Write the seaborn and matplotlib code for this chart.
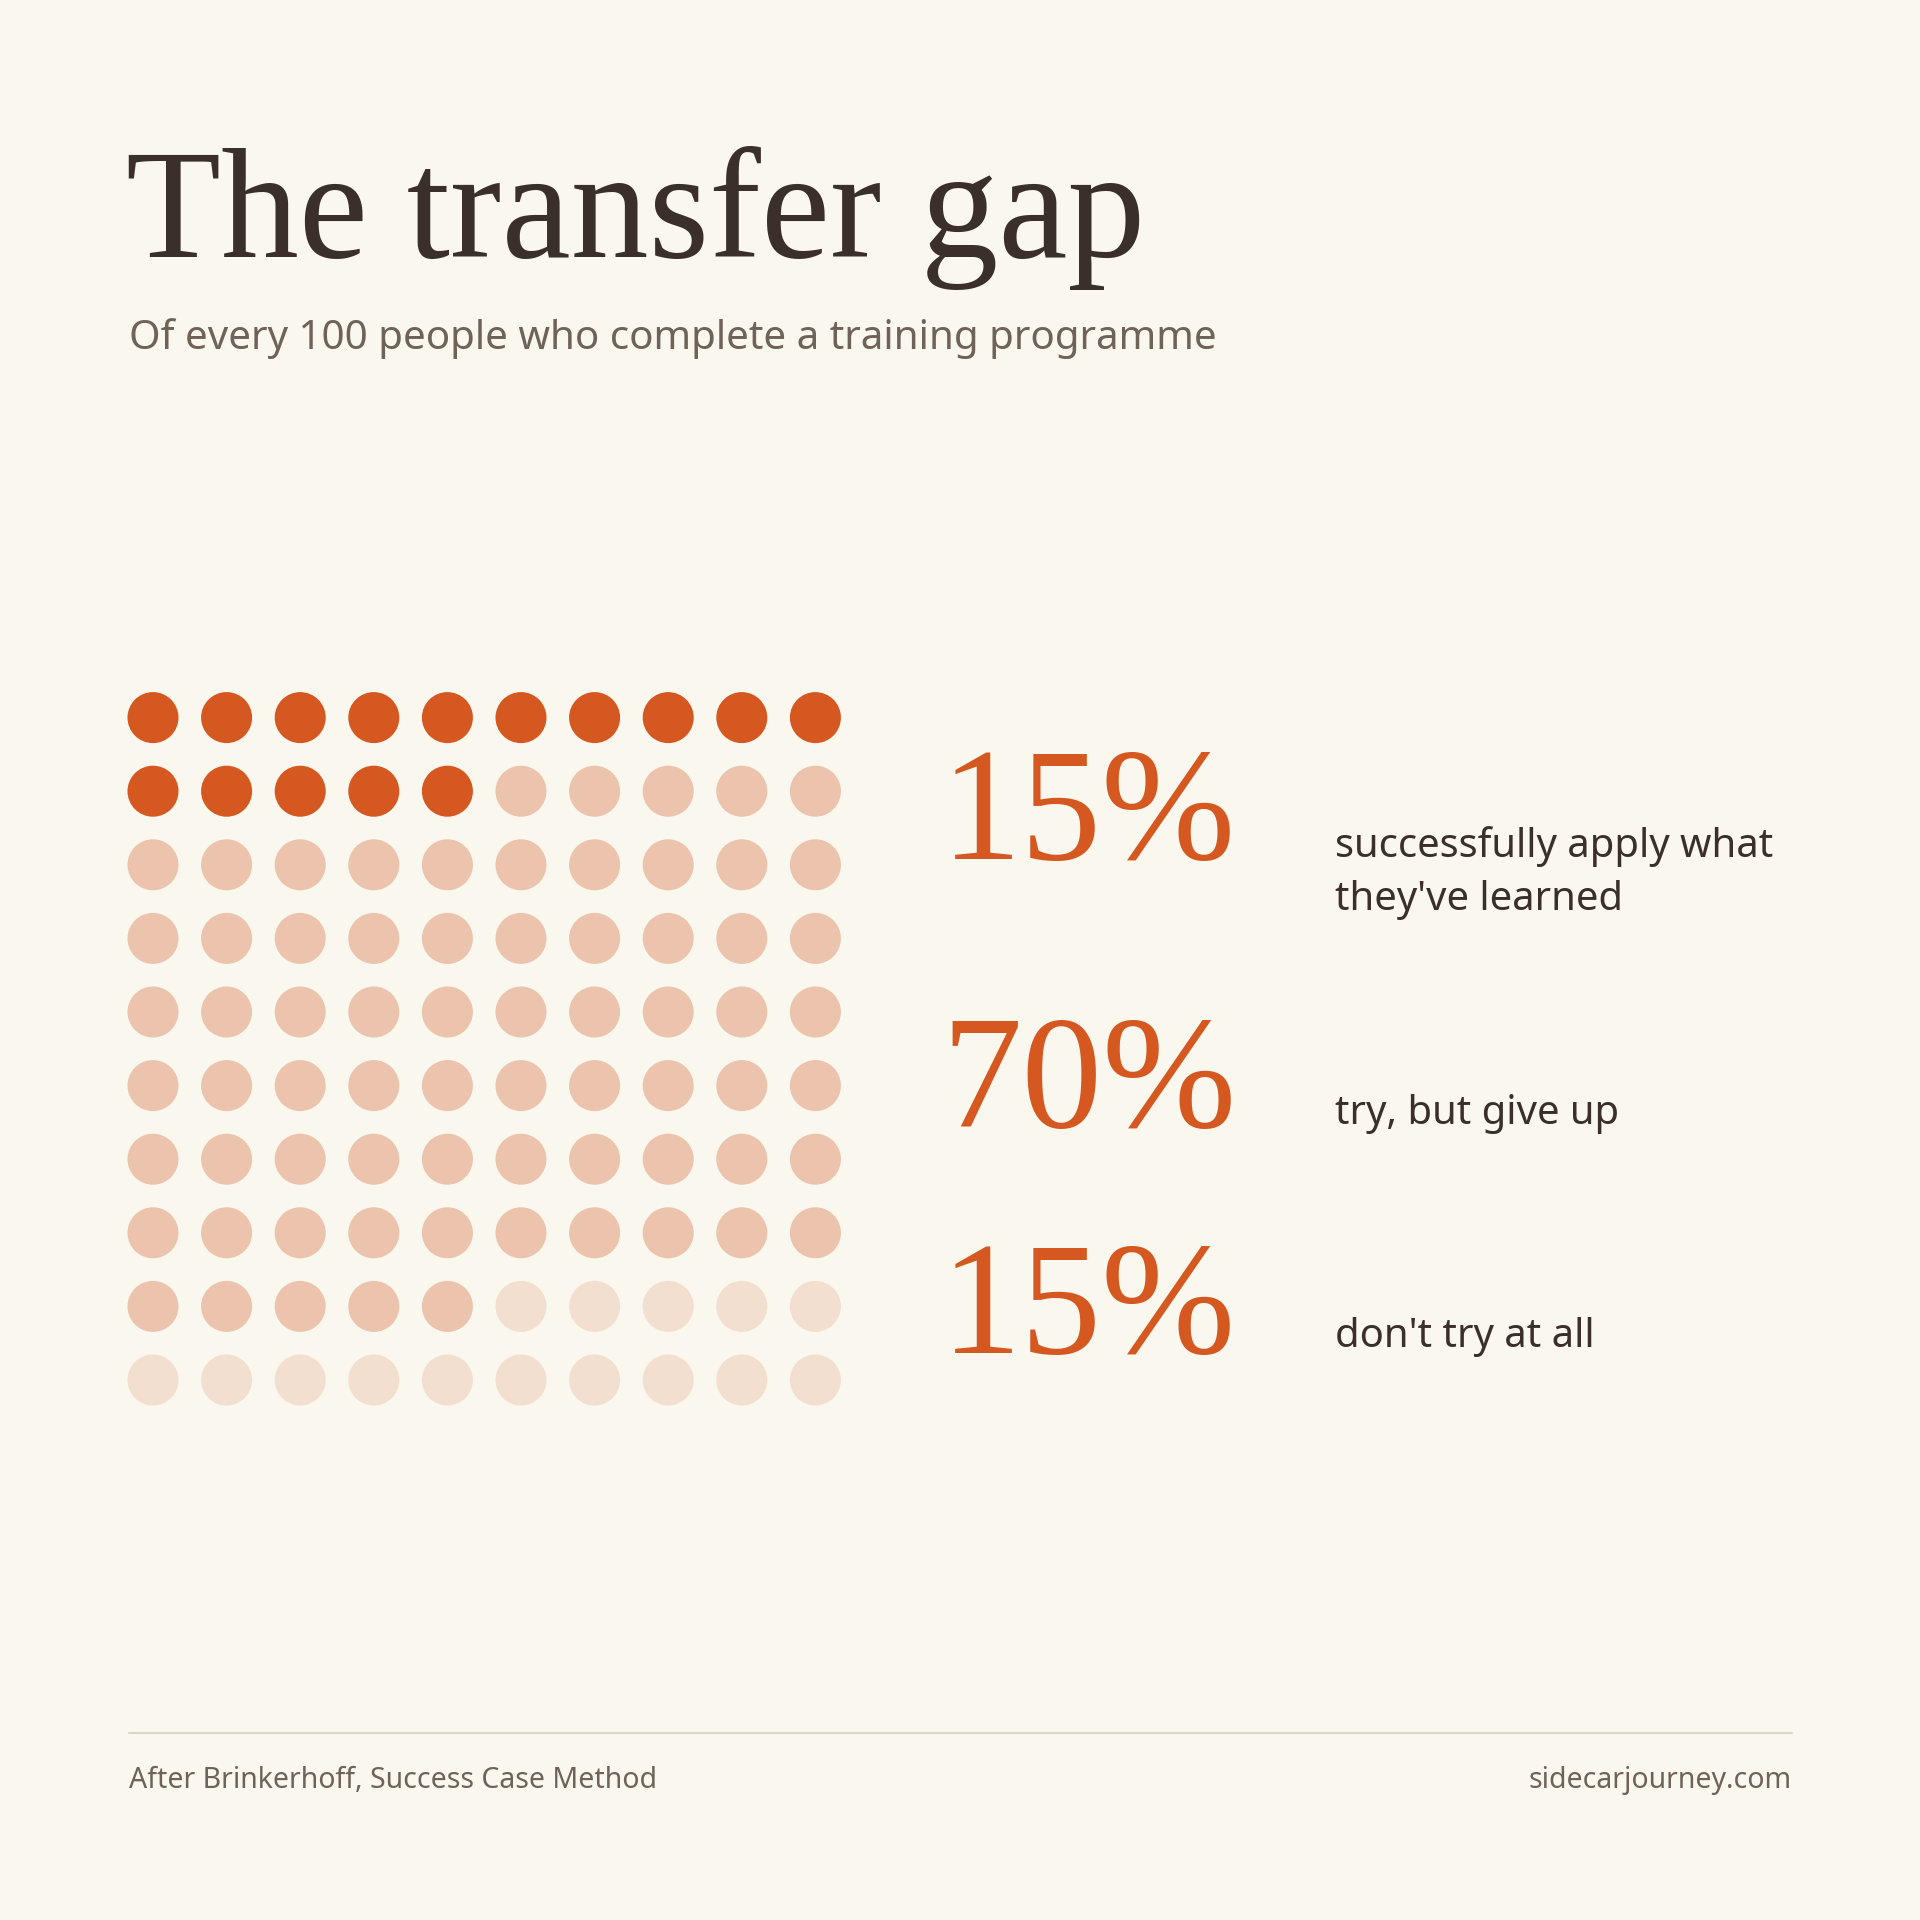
# === IMPORTS ===
import numpy as np
import pandas as pd
import matplotlib.pyplot as plt
import seaborn as sns

# === DATA ===
group_names = ["apply", "give_up", "no_try"]
group_counts = [15, 70, 15]
pct_labels = ["15%", "70%", "15%"]
group_texts = ["successfully apply what\nthey've learned", "try, but give up", "don't try at all"]
grid_cols = 10

title = "The transfer gap"
subtitle = "Of every 100 people who complete a training programme"
source = "After Brinkerhoff, Success Case Method"
site = "sidecarjourney.com"

# === STYLE ===
BG = "#FAF7EF"
DARK = "#3B3029"
MUTED = "#6E6259"
ACCENT = "#D4581F"
dot_colors = {"apply": "#D4581F", "give_up": "#ECC3AC", "no_try": "#F3DFD0"}

sns.set_theme(style="white")
plt.rcParams["font.family"] = ["Noto Sans", "DejaVu Sans"]

W = H = 1920
fig = plt.figure(figsize=(19.2, 19.2), dpi=100, facecolor=BG)

# background axes in pixel coordinates for text and rule
bg = fig.add_axes([0, 0, 1, 1])
bg.set_xlim(0, W)
bg.set_ylim(H, 0)
bg.axis("off")
bg.set_facecolor(BG)

# === WAFFLE GRID ===
people = []
for name, n in zip(group_names, group_counts):
    people += [name] * n
df = pd.DataFrame({"group": people})
df["col"] = np.arange(len(df)) % grid_cols
df["row"] = np.arange(len(df)) // grid_cols

gx = fig.add_axes([116.2 / W, 1 - 1416.8 / H, 736 / W, 736 / H])
sns.scatterplot(data=df, x="col", y="row", hue="group", palette=dot_colors,
                s=1350, linewidth=0, legend=False, ax=gx)
gx.set_xlim(-0.5, grid_cols - 0.5)
gx.set_ylim(grid_cols - 0.5, -0.5)
gx.axis("off")
gx.patch.set_alpha(0)

# === TEXT ===
bg.text(126, 257, title, family="Liberation Serif", fontsize=112, color=DARK, va="baseline")
bg.text(129, 349, subtitle, fontsize=29, color=MUTED, va="baseline")

pct_y = [859, 1127, 1353]
# baseline of the last line of each label
label_y = [910, 1124, 1347]
for pct, txt, py, ly in zip(pct_labels, group_texts, pct_y, label_y):
    bg.text(941, py, pct, family="Liberation Serif", fontsize=116, color=ACCENT, va="baseline")
    bg.text(1335, ly, txt, fontsize=28.8, color=DARK, va="baseline", linespacing=1.42)

# footer
bg.plot([128.6, 1791.5], [1733, 1733], color="#DCD6C6", lw=1.5)
bg.text(129, 1788, source, fontsize=20.5, color=MUTED, va="baseline")
bg.text(1791.5, 1788, site, fontsize=20.5, color=MUTED, va="baseline", ha="right")

plt.savefig("out.png", dpi=100, facecolor=BG)
plt.close()
